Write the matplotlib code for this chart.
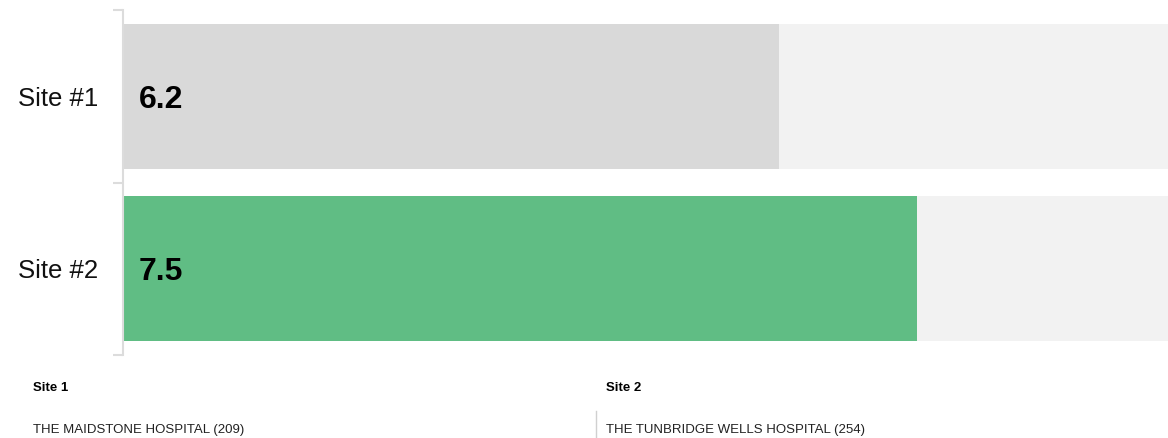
import matplotlib
matplotlib.use("Agg")
import matplotlib.pyplot as plt
from matplotlib.lines import Line2D

plt.rcParams['font.family'] = ['Liberation Sans', 'DejaVu Sans']

# Scores per site (scale 0-10)
sites = ["Site #1", "Site #2"]
scores = [6.2, 7.5]
score_max = 10
bar_colors = ["#d9d9d9", "#60bd84"]
track_color = "#f2f2f2"

# Footer details
site_headers = ["Site 1", "Site 2"]
site_names = ["THE MAIDSTONE HOSPITAL (209)", "THE TUNBRIDGE WELLS HOSPITAL (254)"]

W, H = 1168, 438
fig = plt.figure(figsize=(W / 100, H / 100), dpi=100)
ax = fig.add_axes([123 / W, 83 / H, 1058 / W, 345 / H])

ypos = list(range(len(sites)))
bar_h = 0.84
ax.barh(ypos, [score_max] * len(sites), height=bar_h, color=track_color, zorder=1)
ax.barh(ypos, scores, height=bar_h, color=bar_colors, zorder=2)

for y, v in zip(ypos, scores):
    ax.annotate(f"{v:.1f}", xy=(0, y), xytext=(11.5, 0), textcoords="offset points",
                ha="left", va="center_baseline", fontsize=23, fontweight="bold",
                color="#000000", zorder=3)

ax.set_xlim(0, score_max)
ax.set_ylim(len(sites) - 0.5, -0.5)

ax.set_yticks(ypos)
ax.set_yticklabels(sites, fontsize=18.5, color="#111111")
ax.tick_params(axis="y", which="major", length=0, pad=18)
ax.set_yticks([-0.5, 0.5, 1.5], minor=True)
ax.tick_params(axis="y", which="minor", length=7, width=1.5, color="#dcdcdc")
ax.set_xticks([])

for s in ["top", "right", "bottom"]:
    ax.spines[s].set_visible(False)
ax.spines["left"].set_color("#dcdcdc")
ax.spines["left"].set_linewidth(1.5)

# Footer with site names
xs = [33, 606]
for x, hdr, name in zip(xs, site_headers, site_names):
    fig.text(x / W, 1 - 388 / H, hdr, fontsize=9.5, fontweight="bold",
             ha="left", va="center", color="#000000")
    fig.text(x / W, 1 - 430 / H, name, fontsize=9.5,
             ha="left", va="center", color="#222222")

fig.add_artist(Line2D([596 / W, 596 / W], [0, 1 - 411 / H],
                      transform=fig.transFigure, color="#d0d0d0", linewidth=1))

fig.savefig("out.png", dpi=100)
